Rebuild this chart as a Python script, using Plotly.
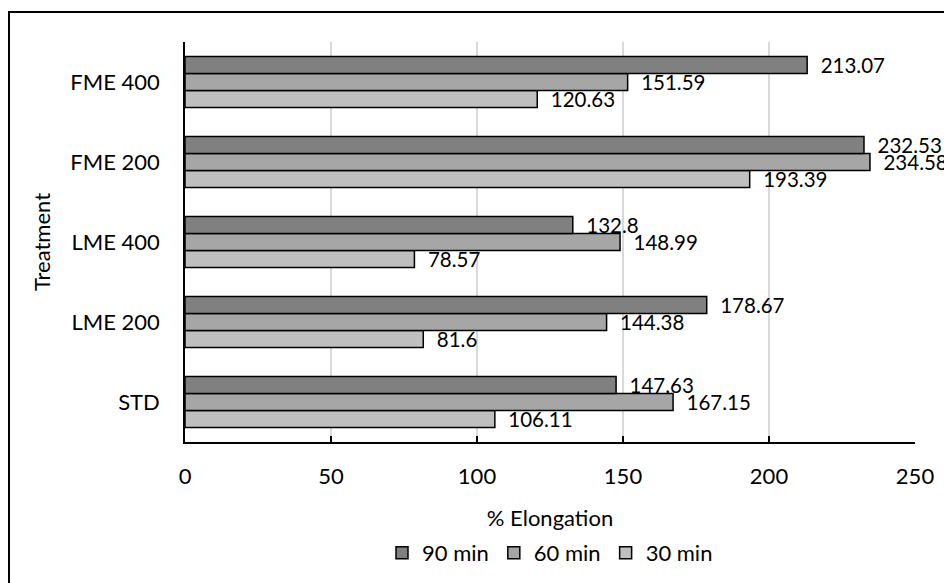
import plotly.graph_objects as go

categories = ["STD", "LME 200", "LME 400", "FME 200", "FME 400"]
series_names = ["30 min", "60 min", "90 min"]
values_30 = [106.11, 81.6, 78.57, 193.39, 120.63]
values_60 = [167.15, 144.38, 148.99, 234.58, 151.59]
values_90 = [147.63, 178.67, 132.8, 232.53, 213.07]
colors = ["#bfbfbf", "#a6a6a6", "#808080"]
x_ticks = [0, 50, 100, 150, 200, 250]

FONT = "Lato, Carlito, 'Liberation Sans', sans-serif"
FS = 22
PAD = "\u00a0\u00a0"

fig = go.Figure()
for name, vals, col in zip(series_names, [values_30, values_60, values_90], colors):
    fig.add_trace(go.Bar(
        y=categories, x=vals, name=name, orientation="h",
        marker=dict(color=col, line=dict(color="#000000", width=1.5)),
        text=[PAD + f"{v:g}" for v in vals], textposition="outside",
        textfont=dict(size=20.5, color="#000000", family=FONT),
        constraintext="none", cliponaxis=False,
    ))

# page is offset by the body's 8px margin
W, H = 944, 575
L, R, T, B = 177, 37, 34, 141
pw, ph = W - L - R, H - T - B

fig.update_layout(
    width=W, height=H,
    margin=dict(l=L, r=R, t=T, b=B, autoexpand=False),
    paper_bgcolor="white", plot_bgcolor="white",
    barmode="group", bargap=0.36, bargroupgap=0,
    font=dict(family=FONT, size=FS, color="#000000"),
    legend=dict(orientation="h", x=0.5, xanchor="center", y=-0.225, yanchor="top",
                traceorder="reversed", font=dict(size=FS), itemwidth=30),
    xaxis=dict(range=[0, 250], tickvals=x_ticks, showgrid=True, gridcolor="#d9d9d9", gridwidth=1.5,
               showline=True, linecolor="#000000", linewidth=1.5, ticks="inside", ticklen=6,
               tickcolor="#000000", tickwidth=1.5, zeroline=False, automargin=False,
               ticklabelstandoff=14,
               title=dict(text="% Elongation", standoff=22, font=dict(size=FS)),
               tickfont=dict(size=FS)),
    yaxis=dict(showline=True, linecolor="#000000", linewidth=1.5, showgrid=False,
               ticks="", ticklabelstandoff=19, automargin=False,
               title=dict(text="Treatment", standoff=14, font=dict(size=FS)),
               tickfont=dict(size=FS)),
    shapes=[dict(type="rect", xref="paper", yref="paper",
                 x0=(1 - L) / pw, x1=(W + 10 - L) / pw,
                 y0=1 - (H + 10 - T) / ph, y1=1 - (4 - T) / ph,
                 line=dict(color="#000000", width=2), fillcolor="rgba(0,0,0,0)", layer="above")],
)

fig.write_html("out.html")
